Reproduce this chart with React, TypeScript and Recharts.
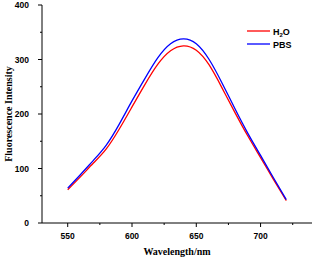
import React from 'react';
import { LineChart, Line, XAxis, YAxis, Label } from 'recharts';

const wavelengths = [550, 560, 570, 580, 590, 600, 610, 620, 630, 640, 650, 660, 670, 680, 690, 700, 710, 720];
const h2o = [61, 85, 110, 136, 172, 213, 254, 291, 316, 325, 317, 290, 248, 203, 160, 120, 80, 41];
const pbs = [64, 89, 115, 143, 181, 224, 265, 303, 329, 338, 329, 300, 257, 210, 165, 124, 83, 43];

const yTicks = [0, 50, 100, 150, 200, 250, 300, 350, 400];
const xTicks = [550, 575, 600, 625, 650, 675, 700, 725];

const data = wavelengths.map((wl, i) => ({ wl, h2o: h2o[i], pbs: pbs[i] }));

const tickFont = { fontFamily: 'Arial, "Liberation Sans", sans-serif', fontWeight: 'bold', fontSize: 8.5 };
const titleFont = { fontFamily: '"Times New Roman", "Liberation Serif", serif', fontWeight: 'bold', fontSize: 10 };

const YTick = (props: any) => {
  const { x, y, payload } = props;
  const major = payload.value % 100 === 0;
  return (
    <g>
      <line x1={42 - (major ? 4 : 2)} x2={42} y1={y} y2={y} stroke="#000" strokeWidth={1} />
      {major && (
        <text x={x - 5} y={y} dy={3} textAnchor="end" fill="#000" style={tickFont}>
          {payload.value}
        </text>
      )}
    </g>
  );
};

const XTick = (props: any) => {
  const { x, payload } = props;
  const major = payload.value % 50 === 0;
  return (
    <g>
      <line x1={x} x2={x} y1={223} y2={223 + (major ? 4 : 2)} stroke="#000" strokeWidth={1} />
      {major && (
        <text x={x} y={236} dy={3} textAnchor="middle" fill="#000" style={tickFont}>
          {payload.value}
        </text>
      )}
    </g>
  );
};

export default function App() {
  return (
    <div style={{ position: 'absolute', left: 0, top: 0, width: 314, height: 258, background: '#fff' }}>
      <LineChart width={314} height={258} data={data} margin={{ top: 5, right: 2, bottom: 0, left: 0 }}>
        <XAxis
          dataKey="wl"
          type="number"
          domain={[530, 740]}
          ticks={xTicks}
          tick={<XTick />}
          tickLine={false}
          axisLine={{ stroke: '#000', strokeWidth: 1 }}
          height={35}
          interval={0}
        >
          <Label value="Wavelength/nm" position="insideBottom" offset={3} fill="#000" style={titleFont} />
        </XAxis>
        <YAxis
          type="number"
          domain={[0, 400]}
          ticks={yTicks}
          tick={<YTick />}
          tickLine={false}
          axisLine={{ stroke: '#000', strokeWidth: 1 }}
          width={42}
          interval={0}
        >
          <Label
            value="Fluorescence Intensity"
            angle={-90}
            position="insideLeft"
            offset={8}
            fill="#000"
            style={{ ...titleFont, textAnchor: 'middle' }}
          />
        </YAxis>
        <Line type="natural" dataKey="h2o" stroke="#ff0000" strokeWidth={1.3} dot={false} isAnimationActive={false} />
        <Line type="natural" dataKey="pbs" stroke="#0000ff" strokeWidth={1.3} dot={false} isAnimationActive={false} />
      </LineChart>
      <svg width={70} height={30} style={{ position: 'absolute', left: 246, top: 23 }}>
        <line x1={1} x2={24} y1={8} y2={8} stroke="#ff0000" strokeWidth={1.3} />
        <text x={27} y={11.5} fill="#000" style={{ ...tickFont, fontSize: 9 }}>
          H<tspan fontSize={6} dy={2}>2</tspan><tspan dy={-2}>O</tspan>
        </text>
        <line x1={1} x2={24} y1={21} y2={21} stroke="#0000ff" strokeWidth={1.3} />
        <text x={27} y={24.5} fill="#000" style={{ ...tickFont, fontSize: 9 }}>
          PBS
        </text>
      </svg>
    </div>
  );
}
